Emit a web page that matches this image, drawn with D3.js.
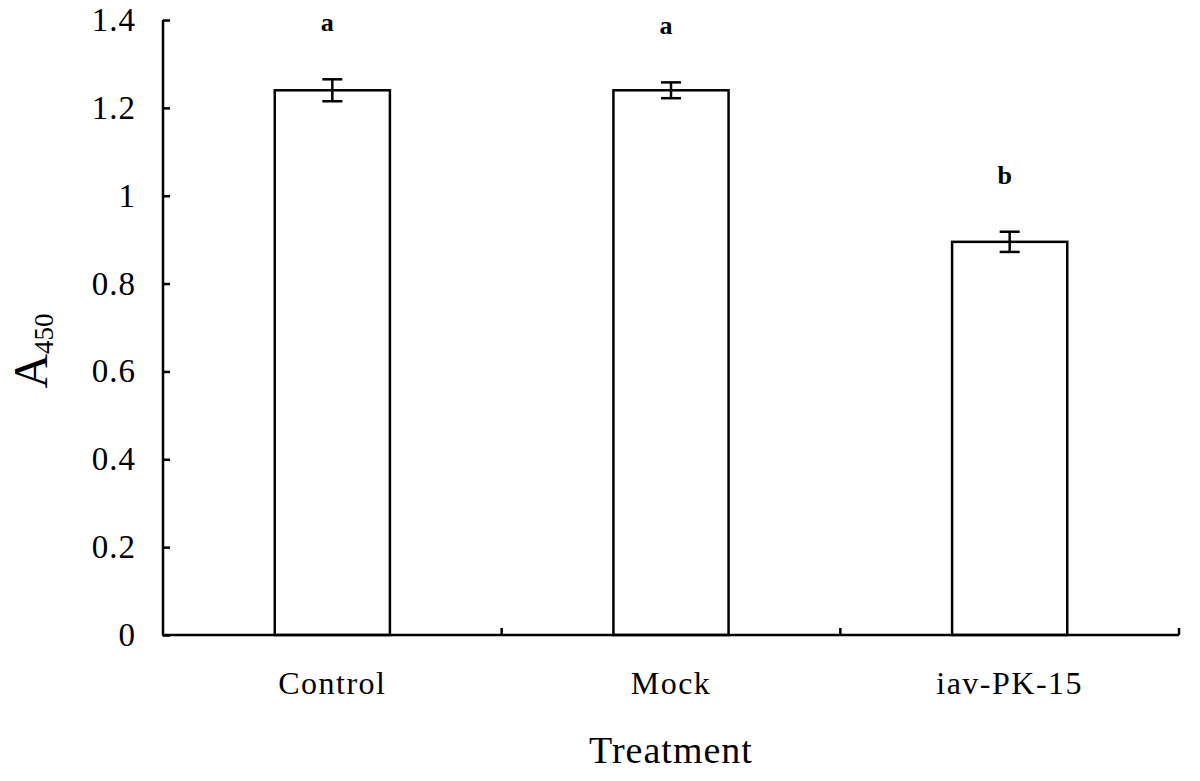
<!DOCTYPE html>
<html lang="en">
<head>
  <meta charset="UTF-8">
  <title>A450 by treatment</title>
  <style>
    body {
      margin: 0;
      background: #fff;
    }
    svg text {
      font-family: "Liberation Serif", "Times New Roman", serif;
      fill: #000;
    }
  </style>
</head>
<body>
<div class="chart"></div>
</body>
<script src="https://cdn.jsdelivr.net/npm/d3@7/dist/d3.min.js"></script>
<script>
  const categories = ['Control', 'Mock', 'iav-PK-15']
  const means = [1.24, 1.24, 0.895]
  const errors = [0.025, 0.018, 0.023]
  const letters = ['a', 'a', 'b']
  const yTicks = [0, 0.2, 0.4, 0.6, 0.8, 1, 1.2, 1.4]

  const width = 1200
  const height = 781
  const margin = {top: 20, right: 21, bottom: 146, left: 163}

  const svg = d3.select('.chart').append('svg')
    .attr('width', width)
    .attr('height', height)

  const x = d3.scaleBand()
    .domain(categories)
    .range([margin.left, width - margin.right])
    .paddingInner(0.66)
    .paddingOuter(0.33)

  const y = d3.scaleLinear()
    .domain([0, 1.4])
    .range([height - margin.bottom, margin.top])

  const data = categories.map((c, i) => ({cat: c, v: means[i], e: errors[i], l: letters[i]}))
  const cx = d => x(d.cat) + x.bandwidth() / 2

  // bars
  svg.selectAll('rect.bar')
    .data(data)
    .enter()
    .append('rect')
    .attr('class', 'bar')
    .attr('x', d => x(d.cat))
    .attr('y', d => y(d.v))
    .attr('width', x.bandwidth())
    .attr('height', d => y(0) - y(d.v))
    .attr('fill', '#fff')
    .attr('stroke', '#000')
    .attr('stroke-width', 2.5)

  // error bars
  const cap = 10
  const err = svg.selectAll('g.err')
    .data(data)
    .enter()
    .append('g')
    .attr('class', 'err')
    .attr('stroke', '#000')
    .attr('stroke-width', 2.5)

  err.append('line')
    .attr('x1', cx)
    .attr('x2', cx)
    .attr('y1', d => y(d.v - d.e))
    .attr('y2', d => y(d.v + d.e))
  err.append('line')
    .attr('x1', d => cx(d) - cap)
    .attr('x2', d => cx(d) + cap)
    .attr('y1', d => y(d.v + d.e))
    .attr('y2', d => y(d.v + d.e))
  err.append('line')
    .attr('x1', d => cx(d) - cap)
    .attr('x2', d => cx(d) + cap)
    .attr('y1', d => y(d.v - d.e))
    .attr('y2', d => y(d.v - d.e))

  // significance letters
  svg.selectAll('text.sig')
    .data(data)
    .enter()
    .append('text')
    .attr('class', 'sig')
    .attr('x', d => cx(d) - 5)
    .attr('y', d => y(d.v + d.e) - 48)
    .attr('text-anchor', 'middle')
    .attr('font-size', '26px')
    .attr('font-weight', 'bold')
    .text(d => d.l)

  // y axis
  const yAxis = d3.axisLeft(y)
    .tickValues(yTicks)
    .tickSize(-7)
    .tickPadding(27)
    .tickFormat(d => d3.format('')(+d.toFixed(1)))

  const gy = svg.append('g')
    .attr('transform', `translate(${margin.left},0)`)
    .call(yAxis)
  gy.select('.domain').attr('stroke-width', 2.5).attr('d', `M0,${y(1.4)}V${y(0)}`)
  gy.selectAll('.tick line').attr('stroke-width', 2.5)
  gy.selectAll('.tick text')
    .attr('font-size', '33px')
    .attr('font-family', '"Liberation Serif", serif')
    .attr('letter-spacing', '1px')
    .attr('dy', '0.32em')

  // x axis: ticks at category boundaries
  const step = x.step()
  const boundaries = d3.range(categories.length + 1).map(i => margin.left + i * step)
  const gx = svg.append('g')
    .attr('stroke', '#000')
    .attr('stroke-width', 2.5)
  gx.append('line')
    .attr('x1', margin.left - 1)
    .attr('x2', width - margin.right)
    .attr('y1', y(0))
    .attr('y2', y(0))
  gx.selectAll('line.xt')
    .data(boundaries.slice(1))
    .enter()
    .append('line')
    .attr('class', 'xt')
    .attr('x1', d => d)
    .attr('x2', d => d)
    .attr('y1', y(0))
    .attr('y2', y(0) - 7)

  svg.selectAll('text.cat')
    .data(categories)
    .enter()
    .append('text')
    .attr('class', 'cat')
    .attr('x', d => x(d) + x.bandwidth() / 2)
    .attr('y', 694)
    .attr('text-anchor', 'middle')
    .attr('font-size', '32px')
    .attr('letter-spacing', '1.5px')
    .text(d => d)

  // axis titles
  svg.append('text')
    .attr('x', (margin.left + width - margin.right) / 2)
    .attr('y', 763)
    .attr('text-anchor', 'middle')
    .attr('font-size', '38px')
    .attr('letter-spacing', '1px')
    .text('Treatment')

  const yt = svg.append('text')
    .attr('transform', 'translate(47,351) rotate(-90)')
    .attr('text-anchor', 'middle')
  yt.append('tspan').attr('font-size', '48px').text('A')
  yt.append('tspan').attr('font-size', '27px').attr('dy', '6').text('450')
</script>
</html>
